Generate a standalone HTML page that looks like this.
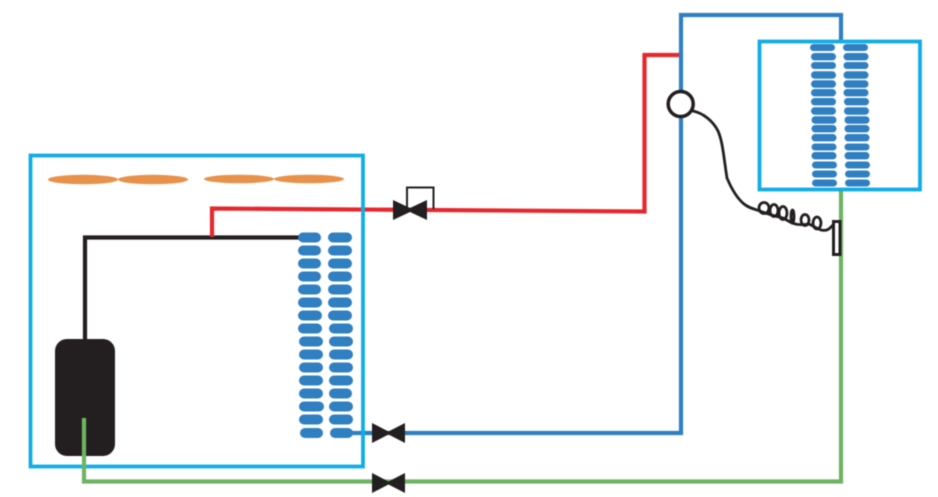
<!DOCTYPE html>
<html><head><meta charset="utf-8"><style>html,body{margin:0;padding:0;background:#fff}svg{display:block}</style></head>
<body>
<svg width="938" height="497" viewBox="0 0 938 497" xmlns="http://www.w3.org/2000/svg">
<rect width="938" height="497" fill="#fff"/>
<g style="filter:blur(0.45px)">
<!-- pipes -->
<path d="M85 340V237.500H300" fill="none" stroke="#231f20" stroke-width="4.200"/>
<path d="M212 237V208.500L644.500 211.500V55H681" fill="none" stroke="#e6282e" stroke-width="4.200"/>
<path d="M340 433H681V15H841V42" fill="none" stroke="#2f7fc1" stroke-width="4.200"/>
<!-- left box -->
<rect x="30.500" y="155.500" width="332.500" height="311" fill="none" stroke="#12ade6" stroke-width="3.800"/>
<!-- fans -->
<g fill="#e8914a">
<ellipse cx="83" cy="179.500" rx="35" ry="4.800"/><ellipse cx="153" cy="179.500" rx="35" ry="4.800"/>
<ellipse cx="239" cy="179" rx="35" ry="4.300"/><ellipse cx="309" cy="179" rx="35" ry="4.300"/>
</g>
<!-- tank -->
<rect x="55" y="339" width="60" height="117" rx="12" fill="#231f20"/>
<!-- green pipe -->
<path d="M84 418V481.500H841V189" fill="none" stroke="#6fb463" stroke-width="4.200"/>
<!-- left coil -->
<g fill="#2f7fc1">
<rect x="298" y="232.500" width="23" height="10" rx="5"/><rect x="328" y="232.500" width="24" height="10" rx="5"/>
<rect x="298" y="245.500" width="23" height="10" rx="5"/><rect x="328" y="245.500" width="24" height="10" rx="5"/>
<rect x="298" y="258.500" width="23" height="10" rx="5"/><rect x="328" y="258.500" width="24" height="10" rx="5"/>
<rect x="298" y="271.500" width="23" height="10" rx="5"/><rect x="328" y="271.500" width="24" height="10" rx="5"/>
<rect x="298" y="284.500" width="23" height="10" rx="5"/><rect x="328" y="284.500" width="24" height="10" rx="5"/>
<rect x="298" y="297.500" width="24" height="10" rx="5"/><rect x="328" y="297.500" width="24" height="10" rx="5"/>
<rect x="298" y="310.500" width="24" height="10" rx="5"/><rect x="328" y="310.500" width="24" height="10" rx="5"/>
<rect x="298" y="323.500" width="24" height="10" rx="5"/><rect x="329" y="323.500" width="24" height="10" rx="5"/>
<rect x="299" y="336.500" width="24" height="10" rx="5"/><rect x="329" y="336.500" width="24" height="10" rx="5"/>
<rect x="299" y="349.500" width="24" height="10" rx="5"/><rect x="329" y="349.500" width="24" height="10" rx="5"/>
<rect x="299" y="362.500" width="24" height="10" rx="5"/><rect x="329" y="362.500" width="24" height="10" rx="5"/>
<rect x="299" y="375.500" width="24" height="10" rx="5"/><rect x="329" y="375.500" width="24" height="10" rx="5"/>
<rect x="299" y="388.500" width="24" height="10" rx="5"/><rect x="329" y="388.500" width="23" height="10" rx="5"/>
<rect x="299" y="401.500" width="25" height="10" rx="5"/><rect x="329" y="401.500" width="24" height="10" rx="5"/>
<rect x="299" y="414.500" width="24" height="10" rx="5"/><rect x="329" y="414.500" width="24" height="10" rx="5"/>
<rect x="300" y="428" width="23" height="10" rx="5"/><rect x="330" y="428" width="23" height="10" rx="5"/>
</g>
<!-- right box -->
<rect x="759.500" y="41.500" width="160.500" height="148" fill="none" stroke="#12ade6" stroke-width="3.800"/>
<!-- right coil -->
<g fill="#2f7fc1">
<rect x="810" y="44" width="25" height="7" rx="3.500"/><rect x="843" y="44" width="25" height="7" rx="3.500"/>
<rect x="811" y="53" width="25" height="7.400" rx="3.700"/><rect x="843.500" y="53" width="25" height="7.400" rx="3.700"/>
<rect x="811" y="62" width="25" height="7" rx="3.500"/><rect x="843.500" y="62" width="25" height="7" rx="3.500"/>
<rect x="811" y="71.300" width="25" height="7.400" rx="3.700"/><rect x="843.500" y="71.300" width="25" height="7.400" rx="3.700"/>
<rect x="811" y="80.300" width="25" height="7.400" rx="3.700"/><rect x="843.500" y="80.300" width="25" height="7.400" rx="3.700"/>
<rect x="811" y="89" width="25" height="7.400" rx="3.700"/><rect x="843.500" y="89" width="25" height="7.400" rx="3.700"/>
<rect x="811" y="98" width="25" height="7.400" rx="3.700"/><rect x="844" y="98" width="25" height="7.400" rx="3.700"/>
<rect x="811" y="107.300" width="25" height="7.400" rx="3.700"/><rect x="844" y="107.300" width="25" height="7.400" rx="3.700"/>
<rect x="811.500" y="116.300" width="25" height="7.400" rx="3.700"/><rect x="844.500" y="116.300" width="25" height="7.400" rx="3.700"/>
<rect x="811.500" y="125" width="25" height="7.400" rx="3.700"/><rect x="844.500" y="125" width="25" height="7.400" rx="3.700"/>
<rect x="811.500" y="134" width="25" height="7.400" rx="3.700"/><rect x="844.500" y="134" width="25" height="7.400" rx="3.700"/>
<rect x="811.500" y="143.500" width="25" height="7" rx="3.500"/><rect x="844.500" y="143.500" width="25" height="7" rx="3.500"/>
<rect x="811.500" y="152" width="25" height="7.400" rx="3.700"/><rect x="844.500" y="152" width="25" height="7.400" rx="3.700"/>
<rect x="812" y="161.500" width="25" height="7" rx="3.500"/><rect x="845" y="161.500" width="25" height="7" rx="3.500"/>
<rect x="812" y="170.500" width="25" height="7" rx="3.500"/><rect x="845" y="170.500" width="25" height="7" rx="3.500"/>
<rect x="812" y="179.500" width="25" height="7" rx="3.500"/><rect x="845" y="179.500" width="25" height="7" rx="3.500"/>
</g>
<!-- valves -->
<path d="M407 209V187.500H433.500V209" fill="none" stroke="#231f20" stroke-width="2"/>
<path d="M393 200L410 208L427 200V220L410 212L393 220Z" fill="#231f20"/>
<path d="M372 423L388.500 431.500L405 423V443L388.500 434.500L372 443Z" fill="#231f20"/>
<path d="M372 473L388.500 481.500L405 473V493L388.500 484.500L372 493Z" fill="#231f20"/>
<!-- bulb -->
<circle cx="680.700" cy="104" r="12.500" fill="#fff" stroke="#231f20" stroke-width="3.500"/>
<!-- capillary -->
<g fill="none" stroke="#231f20" stroke-width="2.800" stroke-linecap="round" stroke-linejoin="round">
<path d="M693 111C703 113 713 121 718 131C723 142 724 160 727 178C732 190 738 199 744 204C749 208 754 209 760 211"/>
<path d="M760 211C767 214 775 216 783 218L792 223C797 225 803 225 809 224C813 226 816 228 819 229C822 231 827 231 830 228L833 225"/>
<ellipse cx="764" cy="208" rx="5" ry="5.500"/>
<ellipse cx="774" cy="210.500" rx="4" ry="6"/>
<ellipse cx="783" cy="213" rx="4" ry="6.500"/>
<ellipse cx="792.500" cy="216.500" rx="1.500" ry="6.500"/>
<ellipse cx="805" cy="220" rx="4" ry="5.500"/>
<ellipse cx="817" cy="223" rx="4" ry="6"/>
</g>
<rect x="833.500" y="221.500" width="6.500" height="33" fill="#fff" stroke="#231f20" stroke-width="3"/>
</g>
</svg>
</body></html>
